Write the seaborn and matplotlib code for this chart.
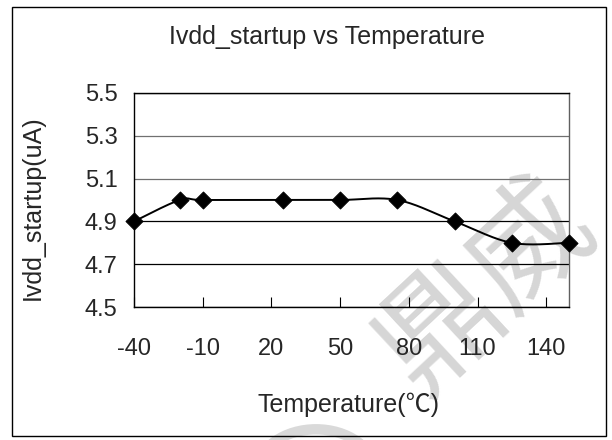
import numpy as np
import pandas as pd
import matplotlib
matplotlib.use("Agg")
import matplotlib.pyplot as plt
from matplotlib.patches import Rectangle, Circle
import seaborn as sns

temperature = [-40, -20, -10, 25, 50, 75, 100, 125, 150]
ivdd_startup = [4.9, 5.0, 5.0, 5.0, 5.0, 5.0, 4.9, 4.8, 4.8]
x_ticks = [-40, -10, 20, 50, 80, 110, 140]
y_ticks = [4.5, 4.7, 4.9, 5.1, 5.3, 5.5]
grid_colors = ["black", "black", "black", "#707070", "#707070", "black"]

sns.set_theme(style="white")
plt.rcParams['font.family'] = ['Liberation Sans', 'Noto Sans CJK SC', 'DejaVu Sans']


def smooth(xs, ys, n=40):
    # Excel-style smoothed line: Catmull-Rom through the points
    p = np.column_stack([xs, ys]).astype(float)
    p = np.vstack([p[0], p, p[-1]])
    out = []
    for i in range(1, len(p) - 2):
        p0, p1, p2, p3 = p[i - 1], p[i], p[i + 1], p[i + 2]
        c1 = p1 + (p2 - p0) / 6
        c2 = p2 - (p3 - p1) / 6
        t = np.linspace(0, 1, n)[:, None]
        seg = (1 - t) ** 3 * p1 + 3 * (1 - t) ** 2 * t * c1 + 3 * (1 - t) * t ** 2 * c2 + t ** 3 * p2
        out.append(seg if i == 1 else seg[1:])
    return np.vstack(out)


curve = smooth(temperature, ivdd_startup)
curve_df = pd.DataFrame({"x": curve[:, 0], "y": curve[:, 1]})
points_df = pd.DataFrame({"Temperature": temperature, "Ivdd": ivdd_startup})

fig = plt.figure(figsize=(6.12, 4.4), dpi=100)
ax = fig.add_axes([0.219, 0.302, 0.711, 0.487])
ax.set_facecolor("none")

# watermark behind the chart
fig.text(0.795, 0.345, "鼎威", fontsize=88, color="#d6d6d6", rotation=43,
         ha="center", va="center", zorder=-1, family=['Noto Sans CJK SC'])
fig.patches.append(Circle((316 / 612, 1 - 471 / 440), 58 / 612, transform=fig.transFigure,
                          fill=False, edgecolor="#d9d9d9", lw=7.5, zorder=-1))

for v, c in zip(y_ticks, grid_colors):
    ax.axhline(v, color=c, lw=0.9, zorder=1)

sns.lineplot(data=curve_df, x="x", y="y", sort=False, estimator=None, color="black",
             lw=1.4, ax=ax, zorder=3)
sns.scatterplot(data=points_df, x="Temperature", y="Ivdd", marker="D", s=75,
                color="black", edgecolor="black", ax=ax, zorder=4, clip_on=False)

ax.set_xlim(-40, 150)
ax.set_ylim(4.5, 5.5)
ax.set_xticks(x_ticks)
ax.set_yticks(y_ticks)
ax.set_xticklabels([str(v) for v in x_ticks])
ax.set_yticklabels([f"{v:.1f}" for v in y_ticks])
ax.tick_params(axis="x", direction="in", length=7, width=0.8, color="black",
               pad=22, labelsize=17, bottom=True)
ax.tick_params(axis="y", direction="in", length=0, pad=12, labelsize=17, left=True)
ax.set_xlabel("")
ax.set_ylabel("")
for s in ax.spines.values():
    s.set_color("black")
    s.set_linewidth(1.0)
ax.spines["right"].set_color("#606060")

fig.text(0.534, 0.915, "Ivdd_startup vs Temperature", fontsize=18, ha="center", va="center")
fig.text(0.569, 0.080, "Temperature(℃)", fontsize=18, ha="center", va="center")
fig.text(0.054, 0.527, "Ivdd_startup(uA)", fontsize=18, ha="center", va="center", rotation=90)

fig.patches.append(Rectangle((0.0196, 0.0091), 0.9706, 0.975, transform=fig.transFigure,
                             fill=False, edgecolor="black", lw=1.0))

plt.savefig("out.png", dpi=100)
